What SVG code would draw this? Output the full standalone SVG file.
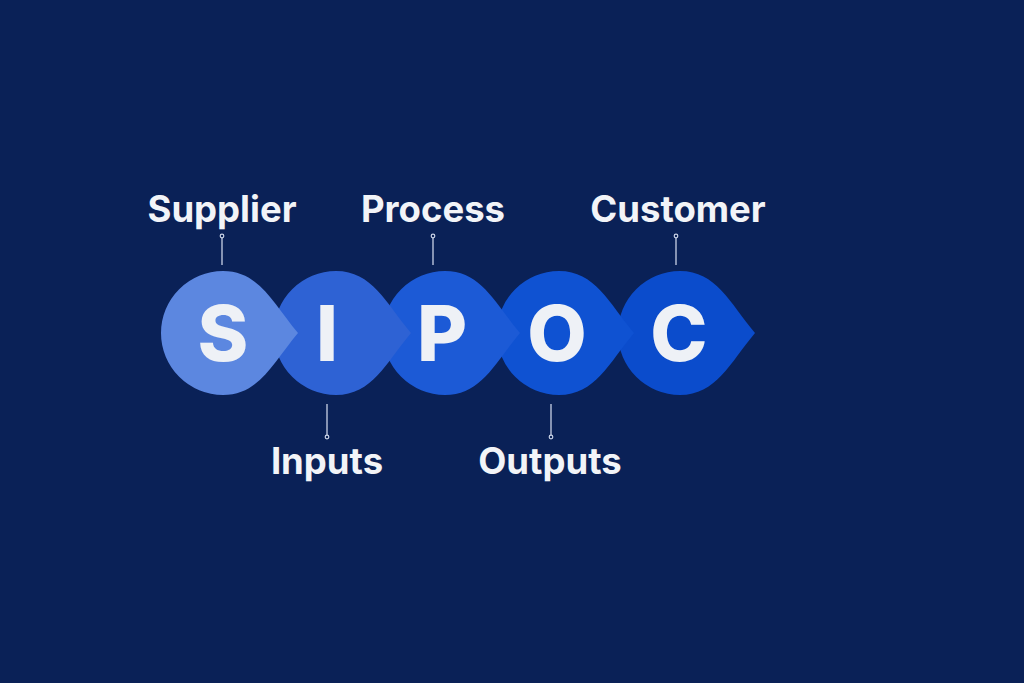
<svg xmlns="http://www.w3.org/2000/svg" width="1024" height="683" viewBox="0 0 1024 683">
<defs>
<style>
.lbl{font-family:Inter,"Open Sans","Liberation Sans",sans-serif;font-weight:700;font-size:36.5px;fill:#f2f4f8;text-anchor:middle}
.ltr{font-family:Inter,"Open Sans","Liberation Sans",sans-serif;font-weight:800;font-size:77px;fill:#eef1f6;text-anchor:middle}
.con{stroke:#c9d2e6;stroke-width:1.3;fill:none}
.dot{fill:#0a2157;stroke:#c9d2e6;stroke-width:1.2}
</style>
<path id="drop" d="M0,-62 C36,-62 50,-30 75,0 C50,30 36,62 0,62 A62,62 0 0 1 0,-62 Z"/>
</defs>
<rect width="1024" height="683" fill="#0a2157"/>
<g id="node-C"><use href="#drop" x="680" y="333" fill="#0b4ccc"/><text class="ltr" x="679" y="361">C</text></g>
<g id="node-O"><use href="#drop" x="559" y="333" fill="#0f52d2"/><text class="ltr" x="557" y="361">O</text></g>
<g id="node-P"><use href="#drop" x="445" y="333" fill="#1c5ad6"/><text class="ltr" x="442" y="361">P</text></g>
<g id="node-I"><use href="#drop" x="336" y="333" fill="#2e62d4"/><text class="ltr" x="327" y="361">I</text></g>
<g id="node-S"><use href="#drop" x="223" y="333" fill="#5c87e0"/><text class="ltr" x="223" y="361">S</text></g>
<g id="connectors">
<line class="con" x1="222" y1="236" x2="222" y2="265"/><circle class="dot" cx="222" cy="236" r="1.8"/>
<line class="con" x1="433" y1="236" x2="433" y2="265"/><circle class="dot" cx="433" cy="236" r="1.8"/>
<line class="con" x1="676" y1="236" x2="676" y2="265"/><circle class="dot" cx="676" cy="236" r="1.8"/>
<line class="con" x1="327" y1="404" x2="327" y2="437"/><circle class="dot" cx="327" cy="437" r="1.8"/>
<line class="con" x1="551" y1="404" x2="551" y2="437"/><circle class="dot" cx="551" cy="437" r="1.8"/>
</g>
<g id="labels">
<text class="lbl" x="222" y="222">Supplier</text>
<text class="lbl" x="433" y="222">Process</text>
<text class="lbl" x="678" y="222">Customer</text>
<text class="lbl" x="327" y="474">Inputs</text>
<text class="lbl" x="550" y="474">Outputs</text>
</g>
</svg>
